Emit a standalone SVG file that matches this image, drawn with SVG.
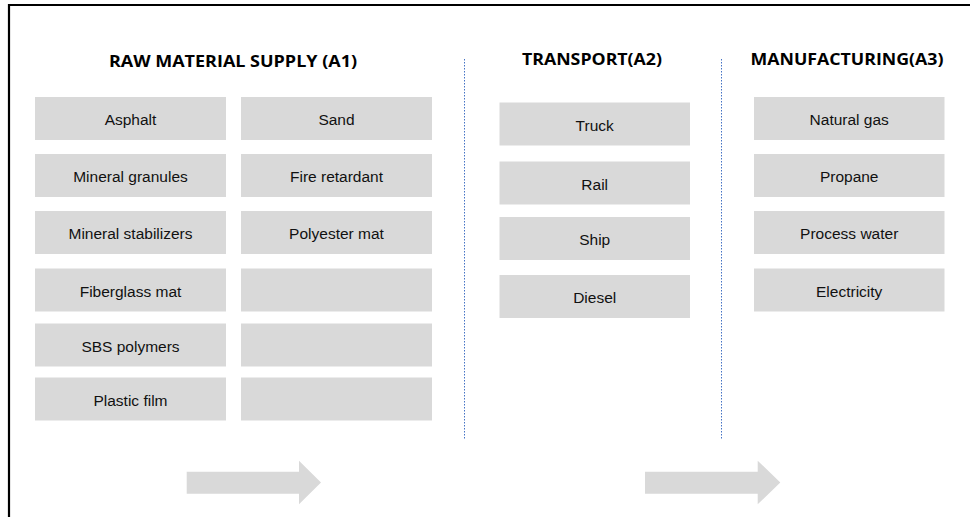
<svg xmlns="http://www.w3.org/2000/svg" width="970" height="517" viewBox="0 0 970 517">
<style>
.box{fill:#d9d9d9}
.lbl{font-family:"Liberation Sans",Arial,sans-serif;font-size:15.5px;fill:#111;text-anchor:middle}
.hd{font-family:"Open Sans","Liberation Sans",sans-serif;font-weight:bold;font-size:16px;fill:#000;text-anchor:middle}
.sep{stroke:#4472c4;stroke-width:1;stroke-dasharray:1.5 1.5;fill:none}
.arr{fill:#d9d9d9}
</style>
<rect x="0" y="0" width="970" height="517" fill="#fff"/>
<g id="frame">
<line x1="8" y1="5" x2="970" y2="5" stroke="#000" stroke-width="2.2"/>
<line x1="9" y1="4" x2="9" y2="517" stroke="#000" stroke-width="2.2"/>
</g>
<g id="headings">
<text class="hd" x="233" y="67" textLength="248" lengthAdjust="spacingAndGlyphs">RAW MATERIAL SUPPLY (A1)</text>
<text class="hd" x="592" y="65" textLength="140" lengthAdjust="spacingAndGlyphs">TRANSPORT(A2)</text>
<text class="hd" x="847" y="65" textLength="193" lengthAdjust="spacingAndGlyphs">MANUFACTURING(A3)</text>
</g>
<g id="separators">
<line class="sep" x1="464.5" y1="59" x2="464.5" y2="440"/>
<line class="sep" x1="721.5" y1="59" x2="721.5" y2="440"/>
</g>
<g id="n-asphalt"><rect class="box" x="35" y="97" width="191" height="43"/><text class="lbl" x="130.5" y="125">Asphalt</text></g>
<g id="n-mineral-granules"><rect class="box" x="35" y="154" width="191" height="43"/><text class="lbl" x="130.5" y="182">Mineral granules</text></g>
<g id="n-mineral-stabilizers"><rect class="box" x="35" y="211" width="191" height="43"/><text class="lbl" x="130.5" y="239">Mineral stabilizers</text></g>
<g id="n-fiberglass-mat"><rect class="box" x="35" y="268.5" width="191" height="43"/><text class="lbl" x="130.5" y="296.5">Fiberglass mat</text></g>
<g id="n-sbs-polymers"><rect class="box" x="35" y="323.5" width="191" height="43"/><text class="lbl" x="130.5" y="351.5">SBS polymers</text></g>
<g id="n-plastic-film"><rect class="box" x="35" y="377.5" width="191" height="43"/><text class="lbl" x="130.5" y="405.5">Plastic film</text></g>
<g id="n-sand"><rect class="box" x="241" y="97" width="191" height="43"/><text class="lbl" x="336.5" y="125">Sand</text></g>
<g id="n-fire-retardant"><rect class="box" x="241" y="154" width="191" height="43"/><text class="lbl" x="336.5" y="182">Fire retardant</text></g>
<g id="n-polyester-mat"><rect class="box" x="241" y="211" width="191" height="43"/><text class="lbl" x="336.5" y="239">Polyester mat</text></g>
<g id="n-empty1"><rect class="box" x="241" y="268.5" width="191" height="43"/></g>
<g id="n-empty2"><rect class="box" x="241" y="323.5" width="191" height="43"/></g>
<g id="n-empty3"><rect class="box" x="241" y="377.5" width="191" height="43"/></g>
<g id="n-truck"><rect class="box" x="499.5" y="102.5" width="190.5" height="43"/><text class="lbl" x="594.7" y="130.5">Truck</text></g>
<g id="n-rail"><rect class="box" x="499.5" y="161.5" width="190.5" height="43"/><text class="lbl" x="594.7" y="189.5">Rail</text></g>
<g id="n-ship"><rect class="box" x="499.5" y="217" width="190.5" height="43"/><text class="lbl" x="594.7" y="245">Ship</text></g>
<g id="n-diesel"><rect class="box" x="499.5" y="275" width="190.5" height="43"/><text class="lbl" x="594.7" y="303">Diesel</text></g>
<g id="n-natural-gas"><rect class="box" x="754" y="97" width="190.5" height="43"/><text class="lbl" x="849.2" y="125">Natural gas</text></g>
<g id="n-propane"><rect class="box" x="754" y="154" width="190.5" height="43"/><text class="lbl" x="849.2" y="182">Propane</text></g>
<g id="n-process-water"><rect class="box" x="754" y="211" width="190.5" height="43"/><text class="lbl" x="849.2" y="239">Process water</text></g>
<g id="n-electricity"><rect class="box" x="754" y="268.5" width="190.5" height="43"/><text class="lbl" x="849.2" y="296.5">Electricity</text></g>
<g id="connectors">
<polygon class="arr" points="186.7,471.7 299,471.7 299,460.7 321,482.5 299,504.3 299,493.7 186.7,493.7"/>
<polygon class="arr" points="645,471.7 757.7,471.7 757.7,460.7 780.3,482.5 757.7,504.3 757.7,493.7 645,493.7"/>
</g>
</svg>
